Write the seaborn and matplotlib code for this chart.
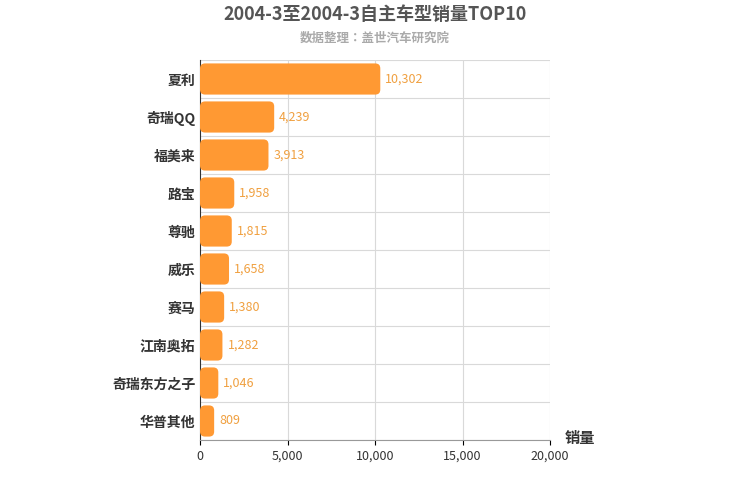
import matplotlib
matplotlib.use("Agg")
import matplotlib.pyplot as plt
import matplotlib.font_manager as fm
import seaborn as sns
import pandas as pd
from matplotlib.patches import FancyBboxPatch

# pick whatever CJK family is registered
cjk = [f.name for f in fm.fontManager.ttflist if "CJK" in f.name]
pref = [n for n in cjk if "SC" in n] or cjk
plt.rcParams["font.family"] = "sans-serif"
plt.rcParams["font.sans-serif"] = pref[:1] + ["DejaVu Sans"]

models = ["夏利", "奇瑞QQ", "福美来", "路宝", "尊驰", "威乐", "赛马", "江南奥拓", "奇瑞东方之子", "华普其他"]
sales = [10302, 4239, 3913, 1958, 1815, 1658, 1380, 1282, 1046, 809]
df = pd.DataFrame({"model": models, "sales": sales})

color = "#FF9933"
fig = plt.figure(figsize=(7.5, 5), dpi=100)
ax = fig.add_axes([200 / 750, 60 / 500, 350 / 750, 380 / 500])
sns.barplot(data=df, x="sales", y="model", color=color, width=0.82, ax=ax, zorder=3)

# swap bars for rounded ones
px_x = 20000 / 350
px_y = 10 / 380
for p in list(ax.patches):
    x, y, w, h = p.get_x(), p.get_y(), p.get_width(), p.get_height()
    p.remove()
    r = 5 * px_x
    ax.add_patch(FancyBboxPatch((x, y), w, h, boxstyle=f"round,pad=0,rounding_size={min(r, w / 2)}",
                                mutation_aspect=px_y / px_x, fc=color, ec="none", zorder=3))

for i, v in enumerate(sales):
    ax.text(v + 5 * px_x, i, f"{v:,}", va="center", ha="left", color="#F0A040", fontsize=9, zorder=4)

ax.set_xlim(0, 20000)
ax.set_ylim(9.5, -0.5)
ax.set_xticks([0, 5000, 10000, 15000, 20000])
ax.set_xticklabels(["0", "5,000", "10,000", "15,000", "20,000"], fontsize=9, color="#333333")
ax.tick_params(axis="y", length=0, labelsize=10)
for lbl in ax.get_yticklabels():
    lbl.set_fontweight("bold")
    lbl.set_color("#333333")
ax.set_xlabel("")
ax.set_ylabel("")
for xv in [5000, 10000, 15000, 20000]:
    ax.axvline(xv, color="#d9d9d9", lw=0.8, zorder=1)
for yv in [i - 0.5 for i in range(11)]:
    ax.axhline(yv, color="#d9d9d9", lw=0.8, zorder=1)
for s in ["top", "right"]:
    ax.spines[s].set_visible(False)
ax.spines["left"].set_color("#333333")
ax.spines["bottom"].set_color("#999999")

fig.text(580 / 750, 1 - 438 / 500, "销量", fontsize=11, fontweight="bold", color="#333333", ha="center", va="center")
fig.text(0.5, 1 - 14 / 500, "2004-3至2004-3自主车型销量TOP10", fontsize=13, fontweight="bold", color="#555555", ha="center", va="center")
fig.text(0.5, 1 - 38 / 500, "数据整理：盖世汽车研究院", fontsize=9, fontweight="bold", color="#aaaaaa", ha="center", va="center")

fig.savefig("out.png", dpi=100)
